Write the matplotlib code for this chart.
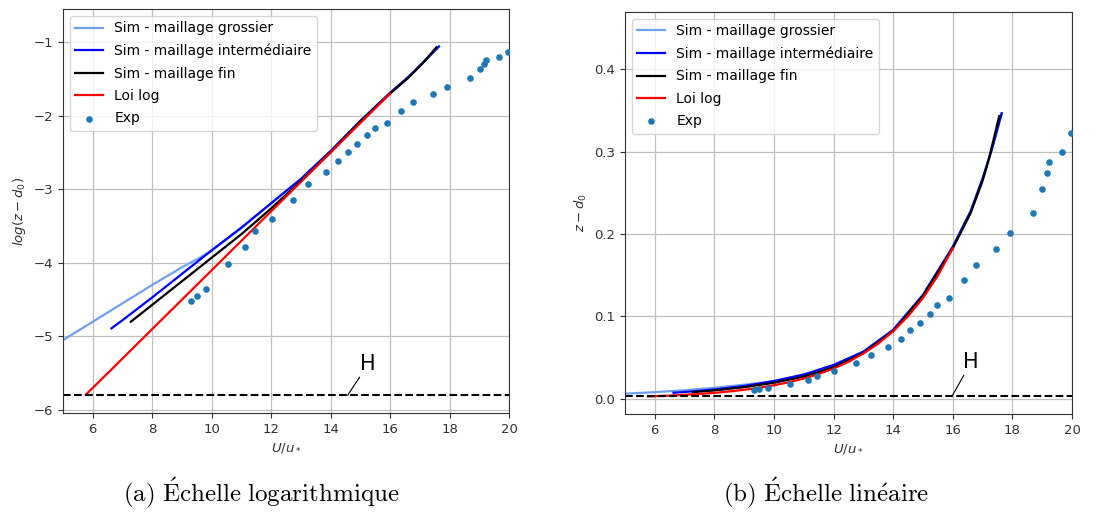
import numpy as np
import matplotlib
matplotlib.use("Agg")
import matplotlib.pyplot as plt

# --- donnees (log = ln(z - d0)) ---
u_grossier = [5.0, 6.0, 7.0, 8.0, 9.0, 9.6, 10.0, 11.0, 12.0, 13.0, 14.0, 15.0, 16.0, 16.6, 17.0, 17.3, 17.65]
log_grossier = [-5.05, -4.80, -4.55, -4.30, -4.06, -3.93, -3.83, -3.53, -3.19, -2.86, -2.48, -2.07, -1.69, -1.48, -1.32, -1.20, -1.06]

u_inter = [6.63, 7.0, 8.0, 9.0, 10.0, 11.0, 12.0, 13.0, 14.0, 15.0, 16.0, 16.6, 17.0, 17.3, 17.64]
log_inter = [-4.89, -4.78, -4.47, -4.15, -3.83, -3.52, -3.19, -2.86, -2.48, -2.07, -1.69, -1.48, -1.32, -1.20, -1.06]

u_fin = [7.28, 8.0, 9.0, 10.0, 11.0, 12.0, 13.0, 14.0, 15.0, 16.0, 16.6, 17.0, 17.2, 17.56]
log_fin = [-4.80, -4.57, -4.25, -3.93, -3.61, -3.26, -2.89, -2.50, -2.08, -1.70, -1.49, -1.33, -1.24, -1.07]

u_loi = [5.77, 6.5, 7.0, 7.5, 8.0, 8.5, 9.0, 9.5, 10.0, 10.5, 11.0, 11.5, 12.0, 12.5,
         13.0, 13.5, 14.0, 14.5, 15.0, 15.5, 16.0]
log_loi = [-5.79, -5.50, -5.30, -5.10, -4.90, -4.70, -4.50, -4.30, -4.10, -3.90, -3.70, -3.50,
           -3.30, -3.10, -2.90, -2.70, -2.50, -2.30, -2.10, -1.90, -1.70]

u_exp = [9.32, 9.49, 9.80, 10.55, 11.13, 11.46, 12.02, 12.75, 13.25, 13.83, 14.25, 14.58, 14.89,
         15.22, 15.48, 15.88, 16.37, 16.78, 17.44, 17.93, 18.68, 19.01, 19.17, 19.24, 19.66, 19.97]
z_exp = [0.0109, 0.0117, 0.0129, 0.0180, 0.0228, 0.0282, 0.0333, 0.0430, 0.0534, 0.0628, 0.0732,
         0.0831, 0.0925, 0.1035, 0.1140, 0.1230, 0.1440, 0.1620, 0.1820, 0.2010, 0.2250, 0.2550,
         0.2740, 0.2870, 0.3000, 0.3220]

log_h = -5.80
xticks = [6, 8, 10, 12, 14, 16, 18, 20]

c_grossier = "#70a0f0"
c_exp = "#1f77b4"


def trace(ax, transform):
    ax.plot(u_grossier, transform(log_grossier), color=c_grossier, lw=1.6,
            label="Sim - maillage grossier")
    ax.plot(u_inter, transform(log_inter), color="blue", lw=1.6,
            label="Sim - maillage intermédiaire")
    ax.plot(u_fin, transform(log_fin), color="black", lw=1.6,
            label="Sim - maillage fin")
    ax.plot(u_loi, transform(log_loi), color="red", lw=1.6, label="Loi log")
    ax.axhline(transform([log_h])[0], color="black", ls="--", lw=1.5)
    ax.set_xlim(5, 20)
    ax.set_xticks(xticks)
    ax.grid(True, color="#c0c0c0", lw=0.9)
    ax.tick_params(labelsize=9.5, colors="#333333")
    for s in ax.spines.values():
        s.set_color("#333333")
    ax.set_xlabel("$U/u_*$", fontsize=9.5, color="#333333")


plt.rcParams["mathtext.fontset"] = "dejavusans"
fig = plt.figure(figsize=(11.17, 5.18), dpi=100)
ax1 = fig.add_axes([0.0564, 0.2027, 0.3993, 0.780])
ax2 = fig.add_axes([0.5595, 0.2002, 0.4002, 0.7772])

# (a) echelle log
trace(ax1, lambda v: np.asarray(v))
ax1.scatter(u_exp, np.log(z_exp), s=14, color=c_exp, label="Exp", zorder=3)
ax1.set_ylim(-6.04, -0.55)
ax1.set_yticks([-6, -5, -4, -3, -2, -1])
ax1.set_ylabel("$log(z - d_0)$", fontsize=9.5, color="#333333")
ax1.annotate("H", xy=(14.57, log_h), xytext=(15.0, -5.46), fontsize=15,
             arrowprops=dict(arrowstyle="-", color="black", lw=0.8,
                             shrinkA=0, shrinkB=0))
ax1.legend(loc="upper left", fontsize=10, handlelength=2.0, borderaxespad=0.5,
           labelspacing=0.6)

# (b) echelle lineaire
trace(ax2, lambda v: np.exp(np.asarray(v)))
ax2.scatter(u_exp, z_exp, s=14, color=c_exp, label="Exp", zorder=3)
ax2.set_ylim(-0.0186, 0.4695)
ax2.set_yticks([0.0, 0.1, 0.2, 0.3, 0.4])
ax2.set_ylabel("$z - d_0$", fontsize=9.5, color="#333333")
ax2.annotate("H", xy=(15.97, np.exp(log_h)), xytext=(16.35, 0.037), fontsize=15,
             arrowprops=dict(arrowstyle="-", color="black", lw=0.8,
                             shrinkA=0, shrinkB=0))
ax2.legend(loc="upper left", fontsize=10, handlelength=2.0, borderaxespad=0.5,
           labelspacing=0.6)

# legendes des sous-figures
cap = dict(fontsize=18, ha="center", va="center", math_fontfamily="cm")
fig.text(261.7 / 1117, 1 - 492.7 / 518,
         r"$\mathrm{(a)\ \acute{E}chelle\ logarithmique}$", **cap)
fig.text(825.8 / 1117, 1 - 492.7 / 518,
         r"$\mathrm{(b)\ \acute{E}chelle\ lin\acute{e}aire}$", **cap)

fig.savefig("out.png", dpi=100)
